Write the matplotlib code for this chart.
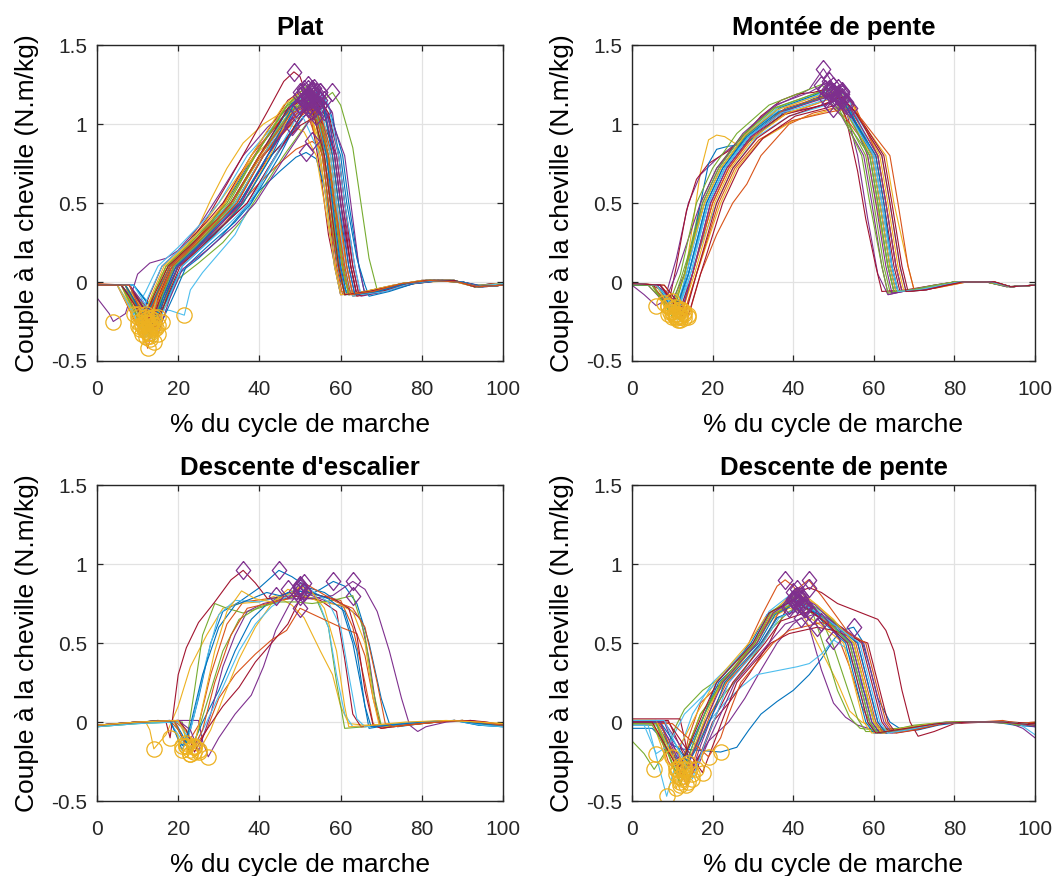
import numpy as np
import matplotlib
matplotlib.use("Agg")
import matplotlib.pyplot as plt

plt.rcParams['font.family'] = ['Liberation Sans', 'DejaVu Sans']

# MATLAB default colour order
matlab_colors = ['#0072BD', '#D95319', '#EDB120', '#7E2F8E', '#77AC30', '#4DBEEE', '#A2142F']

panel_titles = ['Plat', 'Montée de pente', "Descente d'escalier", 'Descente de pente']
xticks = [0, 20, 40, 60, 80, 100]
yticks = [-0.5, 0, 0.5, 1, 1.5]
ytick_labels = ['-0.5', '0', '0.5', '1', '1.5']

# (% cycle, couple) points
plat_traces = [
    [(0,-.02),(6,-.02),(11,-.27),(15,-.1),(18,.08),(23,.2),(29,.4),(34,.6),(40,.85),(46,1.05),(50,1.15),(52,1.17),(54,1.1),(56,.8),(58,.4),(61,-.08),(67,-.06),(74,-.02),(80,.01),(88,.01),(93,-.03),(97,-.01),(100,-.02)],
    [(0,-.01),(7,-.02),(12,-.3),(16,-.05),(19,.1),(24,.22),(30,.45),(36,.7),(42,.92),(47,1.08),(51,1.18),(53,1.2),(55,1.08),(57,.75),(59,.35),(62,-.07),(68,-.06),(75,-.01),(81,.01),(87,.01),(92,-.02),(96,-.03),(100,-.01)],
    [(0,-.02),(5,-.02),(10,-.22),(14,-.08),(17,.1),(21,.2),(25,.35),(28,.52),(32,.72),(36,.88),(41,1.0),(46,1.08),(50,1.12),(53,1.05),(56,.6),(59,.15),(61,-.08),(68,-.06),(75,-.02),(82,.0),(88,.01),(93,-.02),(97,-.02),(100,-.01)],
    [(0,-.1),(3,-.2),(4,-.25),(7,-.2),(10,.05),(13,.12),(17,.15),(20,.2),(25,.35),(30,.55),(36,.8),(42,.98),(48,1.12),(51,1.15),(53,1.12),(55,.95),(57,.6),(59,.2),(61,-.08),(66,-.07),(72,-.04),(78,0),(85,.01),(92,-.01),(95,-.03),(100,-.02)],
    [(0,-.02),(8,-.02),(13,-.28),(17,-.15),(20,.02),(25,.12),(31,.25),(36,.4),(41,.6),(46,.8),(51,.98),(55,1.12),(57,1.18),(58,1.2),(60,1.12),(63,.85),(65,.5),(67,.15),(69,-.05),(72,-.05),(78,-.01),(84,.01),(90,.0),(94,-.03),(100,-.02)],
    [(0,-.02),(9,-.02),(14,-.17),(18,-.18),(21.5,-.21),(23,-.05),(26,.06),(30,.18),(34,.3),(38,.5),(42,.7),(47,.92),(51,1.05),(53,1.08),(55,1.0),(57,.8),(59,.45),(62,-.05),(65,-.08),(71,-.05),(77,-.01),(84,.01),(90,.0),(94,-.03),(100,-.01)],
    [(0,-.02),(7,-.02),(12,-.25),(15,-.1),(18,.1),(22,.22),(27,.4),(32,.62),(37,.85),(42,1.08),(46,1.27),(48.5,1.33),(50,1.3),(52,1.15),(55,.7),(57,.3),(60,-.08),(66,-.07),(73,-.03),(80,.01),(88,.01),(93,-.03),(97,-.01),(100,-.02)],
    [(0,-.02),(8,-.02),(13,-.32),(17,-.12),(20,.05),(25,.15),(30,.27),(35,.42),(40,.58),(45,.7),(49,.79),(51.5,.82),(54,.78),(56,.6),(58,.3),(60,.0),(62,-.08),(68,-.07),(75,-.02),(82,.01),(89,.0),(94,-.03),(100,-.02)],
    [(0,-.02),(7,-.02),(12,-.26),(16,-.1),(19,.08),(24,.18),(29,.3),(34,.45),(39,.6),(44,.73),(49,.84),(53,.89),(55,.85),(57,.65),(59,.3),(61,.0),(63,-.09),(69,-.07),(75,-.02),(82,.01),(88,.01),(93,-.03),(100,-.02)],
    [(0,-.02),(6,-.02),(10,-.2),(13,-.15),(16,.05),(20,.15),(25,.32),(30,.5),(35,.68),(40,.83),(45,.95),(48,.99),(51,.95),(54,.8),(56,.5),(58,.2),(60,-.06),(65,-.07),(72,-.03),(79,.0),(87,.01),(93,-.02),(100,-.01)],
    [(0,-.02),(7,-.02),(13,-.29),(16,-.08),(19,.1),(24,.22),(29,.38),(34,.5),(41,.8),(49,1.09),(53,1.16),(55,1.08),(57.5,.8),(59,.5),(61.5,.1),(63,-.08),(69,-.06),(76,-.01),(83,.01),(90,.0),(94,-.03),(100,-.02)],
    [(0,-.02),(8,-.02),(14,-.24),(17,-.08),(20,.1),(25,.22),(29,.36),(33,.5),(40,.8),(48,1.07),(52,1.14),(54,1.06),(56.5,.8),(58,.5),(59.5,.1),(61,-.08),(67,-.06),(75,-.01),(82,.01),(89,.0),(94,-.03),(100,-.01)],
    [(0,-.02),(6,-.02),(12,-.35),(15,-.08),(18,.1),(23,.22),(30,.38),(35,.5),(42,.8),(50,1.13),(54,1.2),(56,1.12),(58,.8),(59.5,.5),(61.5,.1),(63,-.09),(69,-.06),(76,-.01),(84,.01),(90,0),(95,-.03),(100,-.02)],
    [(0,-.02),(5,-.02),(10,-.28),(13,-.08),(16,.1),(21,.22),(27,.38),(31,.5),(38,.8),(47,1.15),(51,1.22),(53,1.14),(55.5,.8),(57,.5),(58.5,.1),(60,-.08),(66,-.06),(74,-.02),(81,.01),(88,.01),(93,-.03),(100,-.02)],
    [(0,-.02),(9,-.02),(15,-.22),(18,-.08),(21,.1),(26,.22),(32,.38),(36,.5),(43,.8),(51,1.05),(55,1.12),(57,1.05),(58.5,.8),(60,.5),(62.5,.1),(64,-.08),(70,-.05),(77,-.01),(84,.01),(90,.0),(94,-.02),(100,-.02)],
    [(0,-.02),(7,-.02),(12.5,-.42),(15.5,-.1),(18.5,.1),(24,.22),(30,.38),(34,.5),(41,.8),(49,1.03),(53,1.1),(55,1.03),(57.5,.8),(59,.5),(60.5,.1),(62,-.08),(68,-.06),(75,-.01),(83,.01),(89,.0),(94,-.03),(100,-.02)],
    [(0,-.02),(6,-.02),(11,-.33),(14,-.08),(17,.1),(22,.22),(28,.38),(32,.5),(39,.8),(46,1.1),(50,1.18),(52,1.1),(56,.8),(57.5,.5),(59.5,.1),(61,-.08),(67,-.06),(74,-.02),(81,.01),(88,.01),(93,-.03),(100,-.01)],
    [(0,-.02),(8,-.02),(13,-.26),(16,-.08),(19,.1),(24,.22),(32,.38),(37,.5),(44,.8),(52,1.08),(56,1.15),(58,1.07),(59.5,.8),(61,.5),(63.5,.1),(65,-.09),(71,-.06),(78,-.01),(85,.01),(90,0),(94,-.03),(100,-.02)],
    [(0,-.02),(7,-.02),(14,-.38),(17,-.1),(20,.1),(25,.22),(30,.38),(34,.5),(41,.8),(48,1.15),(52,1.25),(54,1.17),(57,.8),(58.5,.5),(60.5,.1),(62,-.08),(68,-.06),(75,-.01),(82,.01),(89,.0),(94,-.03),(100,-.02)],
    [(0,-.02),(5,-.02),(9,-.2),(12,-.06),(15,.1),(20,.22),(26,.38),(30,.5),(37,.8),(45,1.03),(49,1.1),(51,1.03),(55,.8),(56.5,.5),(58.5,.1),(60,-.08),(66,-.06),(73,-.02),(80,.01),(87,.01),(93,-.03),(100,-.02)],
    [(0,-.02),(8,-.02),(14,-.3),(17,-.08),(20,.1),(25,.22),(31,.38),(35,.5),(42,.78),(50,.99),(54,1.05),(56,.99),(59,.8),(60.5,.5),(62.5,.1),(64,-.08),(70,-.05),(77,-.01),(84,.01),(90,0),(94,-.03),(100,-.02)],
    [(0,-.02),(9,-.02),(16,-.25),(19,-.08),(22,.1),(27,.22),(34,.38),(38,.5),(45,.8),(51,1.1),(55,1.2),(57,1.12),(60.5,.8),(62,.5),(64.5,.1),(66,-.08),(72,-.05),(78,-.01),(85,.01),(90,0),(95,-.03),(100,-.02)],
    [(0,-.02),(6,-.02),(12,-.2),(15,-.06),(18,.1),(23,.22),(29,.38),(33,.5),(40,.78),(48,1.03),(52,1.1),(54,1.03),(56.5,.8),(58,.5),(60.5,.1),(62,-.08),(68,-.06),(75,-.01),(82,.01),(89,.0),(94,-.03),(100,-.02)],
    [(0,-.02),(7,-.02),(13,-.23),(16,-.07),(19,.1),(24,.22),(32,.38),(36,.5),(43,.82),(49,1.15),(53,1.22),(55,1.14),(57.5,.8),(59,.5),(61.5,.1),(63,-.08),(69,-.06),(76,-.01),(83,.01),(90,0),(94,-.03),(100,-.02)],
    [(0,-.02),(8,-.02),(15,-.33),(18,-.1),(21,.08),(27,.2),(34,.36),(39,.5),(46,.78),(52,1.01),(56,1.08),(58,1.01),(61,.8),(62.5,.5),(64.5,.1),(66,-.08),(72,-.05),(78,-.01),(85,.01),(90,0),(95,-.03),(100,-.02)],
    [(0,-.02),(6,-.02),(11.5,-.3),(14.5,-.08),(17.5,.1),(22.5,.22),(28.5,.38),(32.5,.5),(39,.8),(47,1.13),(51,1.2),(53,1.12),(55.5,.8),(57,.5),(59.5,.1),(61,-.08),(67,-.06),(74,-.02),(81,.01),(88,.01),(93,-.03),(100,-.02)],
    [(0,-.02),(5,-.02),(10,-.25),(13,-.07),(16,.1),(21,.22),(28,.38),(33,.5),(40,.8),(48,1.1),(52,1.17),(54,1.09),(56.5,.8),(58,.5),(60,.1),(61.5,-.08),(67,-.06),(74,-.02),(81,.01),(88,.01),(93,-.03),(100,-.01)],
    [(0,-.02),(7,-.02),(13,-.28),(16,-.08),(19,.1),(24,.22),(30,.38),(34.5,.5),(41,.8),(50,1.07),(54,1.14),(56,1.06),(58.5,.8),(60,.5),(62.5,.1),(64,-.09),(70,-.06),(77,-.01),(84,.01),(90,0),(94,-.03),(100,-.02)],
    [(0,-.02),(8,-.02),(14,-.27),(17,-.08),(20,.1),(25,.22),(32,.38),(36,.5),(43,.8),(49,1.12),(53,1.19),(56,1.1),(60,.8),(61.5,.5),(64,.15),(66,-.02),(67,-.09),(72,-.06),(78,-.01),(85,.01),(90,0),(94,-.03),(100,-.02)],
    [(0,-.02),(6,-.02),(12,-.24),(15,-.07),(18,.1),(23,.22),(28,.38),(31.5,.5),(38,.8),(46,1.05),(50,1.12),(52,1.05),(55.5,.8),(57,.5),(59,.1),(60.5,-.08),(66,-.06),(73,-.02),(80,.01),(87,.01),(93,-.03),(100,-.02)],
    [(0,-.02),(7,-.02),(12,-.31),(15,-.08),(18,.1),(23,.21),(29,.37),(33.5,.5),(40,.79),(48,1.1),(52,1.18),(54,1.1),(57,.8),(58.5,.5),(60.5,.1),(62,-.08),(68,-.06),(75,-.01),(82,.01),(89,0),(94,-.03),(100,-.02)],
    [(0,-.02),(8,-.02),(13.5,-.25),(16.5,-.07),(19.5,.1),(24.5,.22),(31,.38),(35.5,.5),(42,.8),(50,1.1),(54.5,1.17),(56.5,1.09),(59,.8),(60.5,.5),(63,.1),(64.5,-.08),(70,-.06),(77,-.01),(84,.01),(90,0),(94,-.03),(100,-.02)],
    [(0,-.02),(6,-.02),(11,-.27),(14,-.07),(17,.1),(22,.22),(28,.38),(32,.5),(39,.8),(47,1.12),(51,1.16),(53,1.1),(56,.8),(57.5,.5),(59.5,.1),(61,-.08),(67,-.06),(74,-.02),(81,.01),(88,.01),(93,-.03),(100,-.02)],
    [(0,-.02),(7,-.02),(13,-.36),(16,-.1),(19,.1),(24,.22),(30,.38),(34,.5),(41,.8),(49,1.14),(53,1.21),(55,1.13),(57.5,.8),(59,.5),(61,.1),(62.5,-.08),(68,-.06),(75,-.01),(82,.01),(89,0),(94,-.03),(100,-.02)],
    [(0,-.02),(8,-.02),(14.5,-.29),(17.5,-.08),(20.5,.1),(25.5,.22),(32,.38),(37,.5),(44,.8),(51,1.08),(55,1.15),(57,1.07),(59.5,.8),(61,.5),(63,.1),(64.5,-.08),(70,-.06),(77,-.01),(84,.01),(90,0),(94,-.03),(100,-.02)],
    [(0,-.02),(6,-.02),(12,-.22),(15,-.06),(18,.1),(23,.22),(29,.38),(33,.5),(40,.8),(48,1.13),(52,1.22),(54,1.13),(56.5,.8),(58,.5),(60,.1),(61.5,-.08),(67,-.06),(74,-.02),(81,.01),(88,.01),(93,-.03),(100,-.02)],
    [(0,-.02),(7,-.02),(12.5,-.32),(15.5,-.08),(18.5,.1),(23.5,.22),(30,.38),(34.5,.5),(41,.8),(49,1.06),(53,1.13),(55,1.06),(58,.8),(59.5,.5),(61.5,.1),(63,-.08),(69,-.06),(76,-.01),(83,.01),(90,0),(94,-.03),(100,-.02)],
    [(0,-.02),(5,-.02),(10.5,-.3),(13.5,-.08),(16.5,.1),(21.5,.22),(27.5,.38),(31.5,.5),(38,.8),(46,1.12),(50,1.2),(52,1.12),(55,.8),(56.5,.5),(58.5,.1),(60,-.08),(66,-.06),(73,-.02),(80,.01),(87,.01),(93,-.03),(100,-.02)],
    [(0,-.02),(8,-.02),(14,-.22),(17,-.06),(20,.1),(25,.22),(31,.38),(35.5,.5),(42,.8),(50,1.12),(54,1.18),(56,1.1),(58.5,.8),(60,.5),(62,.1),(63.5,-.08),(69,-.06),(76,-.01),(83,.01),(90,0),(94,-.03),(100,-.02)],
    [(0,-.02),(7,-.02),(13,-.34),(16,-.09),(19,.1),(24,.22),(29.5,.38),(33.5,.5),(40,.8),(48,1.09),(52,1.15),(54,1.08),(57,.8),(58.5,.5),(60.5,.1),(62,-.08),(68,-.06),(75,-.01),(82,.01),(89,0),(94,-.03),(100,-.02)],
    [(0,-.02),(9,-.02),(15,-.27),(18,-.08),(21,.1),(26,.22),(33,.38),(37.5,.5),(44,.8),(51,1.13),(55,1.2),(57,1.12),(59.5,.8),(61,.5),(63.5,.1),(65,-.08),(71,-.06),(77,-.01),(84,.01),(90,0),(94,-.03),(100,-.02)],
    [(0,-.02),(6,-.02),(11.5,-.23),(14.5,-.06),(17.5,.1),(22.5,.22),(29,.38),(33,.5),(40,.8),(47,1.1),(51,1.16),(53,1.09),(56,.8),(57.5,.5),(59.5,.1),(61,-.08),(67,-.06),(74,-.02),(81,.01),(88,.01),(93,-.03),(100,-.02)],
    [(0,-.02),(7,-.02),(13.5,-.3),(16.5,-.08),(19.5,.1),(24.5,.22),(30.5,.38),(35,.5),(42,.8),(49,1.15),(53.5,1.23),(55.5,1.14),(58,.8),(59.5,.5),(62,.1),(63.5,-.08),(69,-.06),(76,-.01),(83,.01),(90,0),(94,-.03),(100,-.02)],
    [(0,-.02),(8,-.02),(12,-.26),(15,-.07),(18,.1),(23,.22),(29,.38),(33,.5),(40,.8),(48,1.07),(52.5,1.12),(54.5,1.05),(57,.8),(58.5,.5),(61,.1),(62.5,-.08),(68,-.06),(75,-.01),(82,.01),(89,0),(94,-.03),(100,-.02)],
]

montee_traces = [
    [(0,-.01),(6,-.02),(11,-.2),(14,.05),(19,.5),(23,.72),(29,.92),(37,1.08),(45,1.15),(50,1.2),(53,1.12),(60,.8),(62,.5),(64.5,.1),(66,-.06),(71,-.05),(77,-.02),(81,0),(89,0),(94,-.03),(100,-.02)],
    [(0,-.01),(7,-.02),(12,-.22),(15,.05),(20,.5),(24,.72),(30,.92),(38,1.06),(46,1.13),(51,1.18),(54,1.1),(61,.8),(63,.5),(65.5,.1),(67,-.06),(72,-.05),(78,-.02),(82,0),(89,0),(94,-.03),(100,-.02)],
    [(0,-.01),(5,-.02),(9,-.2),(12,-.15),(15,.35),(17,.7),(19,.9),(21,.93),(23,.92),(26,.87),(30,.9),(35,1.02),(40,1.1),(45,1.15),(49,1.18),(52,1.2),(55,1.12),(58,.85),(61,.45),(63.5,.1),(65,-.06),(70,-.05),(76,-.02),(80,0),(88,0),(91,-.01),(94,-.03),(100,-.02)],
    [(0,-.02),(3,-.08),(6,-.15),(8,-.12),(11,.15),(14,.5),(17,.68),(21,.78),(26,.88),(31,1.02),(36,1.12),(41,1.18),(44,1.22),(47.5,1.35),(50,1.25),(53,1.1),(56,.8),(58.5,.4),(61,.05),(63.5,-.08),(69,-.05),(76,-.02),(81,0),(89,0),(94,-.03),(100,-.02)],
    [(0,-.02),(5,-.02),(10,-.17),(13,.05),(17,.5),(21,.72),(27,.92),(35,1.1),(43,1.17),(48,1.22),(51,1.14),(58,.8),(60,.5),(62.5,.1),(64,-.06),(70,-.05),(76,-.02),(80,0),(88,0),(93,-.03),(100,-.02)],
    [(0,-.01),(6,-.02),(11.5,-.24),(14.5,.05),(21,.5),(25,.72),(31,.92),(39,1.05),(47,1.11),(52,1.16),(55,1.08),(62,.8),(64,.5),(66.5,.1),(68,-.06),(73,-.05),(78,-.02),(82,0),(90,0),(94,-.03),(100,-.02)],
    [(0,-.01),(5,-.02),(7,-.05),(9,-.15),(11,.1),(13.5,.45),(16,.65),(19,.75),(24,.83),(28,.93),(32,1.05),(37,1.15),(41,1.19),(45,1.2),(48,1.22),(50,1.2),(53,1.05),(56,.7),(58,.4),(60.5,.1),(62,-.06),(68,-.05),(75,-.02),(80,0),(89,0),(94,-.03),(100,-.02)],
    [(0,-.01),(6,-.02),(11,-.2),(14,.1),(17,.5),(19,.75),(21,.84),(24,.86),(28,.87),(32,.95),(38,1.08),(45,1.16),(50,1.2),(53,1.12),(59.5,.8),(61.5,.5),(64,.1),(65.5,-.06),(71,-.05),(76,-.02),(80,0),(88,0),(94,-.03),(100,-.02)],
    [(0,-.01),(7,-.02),(14,-.22),(17,.05),(21,.3),(25,.5),(28.5,.62),(32,.8),(39,1.0),(45,1.07),(50,1.1),(53,1.04),(60,.8),(62,.5),(64.5,.1),(66,-.06),(71,-.05),(77,-.02),(81,0),(89,0),(94,-.03),(100,-.02)],
    [(0,-.01),(8,-.02),(13,-.19),(16,.05),(22,.5),(26,.72),(32,.9),(40,1.02),(48,1.08),(53,1.12),(56,1.05),(63,.8),(65,.5),(68.5,.1),(70,-.05),(75,-.04),(79,-.02),(83,0),(90,0),(94,-.03),(100,-.02)],
    [(0,-.02),(4,-.02),(8,-.13),(11,.05),(17,.5),(21,.72),(27,.91),(35,1.06),(44,1.1),(49,1.13),(52,1.05),(57.5,.8),(59.5,.5),(62,.1),(63.6,-.08),(69,-.05),(75,-.02),(80,0),(88,0),(94,-.03),(100,-.02)],
    [(0,-.02),(4,-.02),(9,-.15),(12,.05),(16,.5),(20,.72),(26,.94),(34,1.12),(42,1.2),(47,1.25),(50,1.17),(57,.8),(59,.5),(62,.1),(63.5,-.07),(69,-.05),(75,-.02),(80,0),(88,0),(93,-.03),(100,-.02)],
    [(0,-.01),(6,-.02),(10.5,-.21),(13.5,.05),(18,.5),(22,.72),(28,.93),(36,1.1),(44,1.17),(49,1.21),(52,1.13),(59,.8),(61,.5),(63.5,.1),(65,-.06),(70,-.05),(76,-.02),(80,0),(88,0),(94,-.03),(100,-.02)],
    [(0,-.01),(7,-.02),(12,-.17),(15,.05),(19.5,.5),(23.5,.72),(29.5,.92),(37.5,1.06),(46,1.11),(51,1.15),(54,1.07),(60.5,.8),(62.5,.5),(65,.1),(66.5,-.06),(72,-.05),(77,-.02),(81,0),(89,0),(94,-.03),(100,-.02)],
    [(0,-.02),(5,-.02),(11,-.23),(14,.05),(18.5,.5),(22.5,.72),(28.5,.93),(36.5,1.1),(45,1.18),(50,1.24),(53,1.15),(59.5,.8),(61.5,.5),(64,.1),(65.5,-.06),(71,-.05),(76,-.02),(80,0),(88,0),(94,-.03),(100,-.02)],
    [(0,-.01),(7,-.02),(13,-.2),(16,.05),(21.5,.5),(25.5,.72),(31.5,.9),(39.5,1.02),(48,1.07),(54,1.1),(57,1.03),(64,.8),(66,.5),(68.5,.1),(70,-.05),(75,-.04),(79,-.02),(83,0),(90,0),(94,-.03),(100,-.02)],
    [(0,-.01),(6,-.02),(12.5,-.18),(15.5,.05),(20.5,.5),(24.5,.72),(30.5,.92),(38.5,1.07),(47,1.14),(52,1.19),(55,1.11),(61.5,.8),(63.5,.5),(66,.1),(67.5,-.06),(72,-.05),(78,-.02),(82,0),(89,0),(94,-.03),(100,-.02)],
    [(0,-.02),(6,-.02),(8,-.06),(10,-.12),(13,.05),(17.5,.5),(21.5,.72),(27.5,.94),(35.5,1.12),(44,1.2),(49,1.27),(52,1.18),(58.5,.8),(60.5,.5),(63,.1),(64.5,-.07),(70,-.05),(76,-.02),(80,0),(88,0),(93,-.03),(100,-.02)],
    [(0,-.02),(5,-.02),(9.5,-.19),(12.5,.05),(18,.5),(22,.72),(28,.92),(36,1.07),(43,1.13),(48,1.17),(51,1.09),(59,.8),(61,.5),(63.5,.1),(65,-.06),(70,-.05),(76,-.02),(80,0),(88,0),(94,-.03),(100,-.02)],
    [(0,-.01),(7,-.02),(11,-.22),(14,.05),(19,.5),(23,.72),(29,.93),(37,1.1),(46,1.18),(51,1.23),(54,1.14),(60,.8),(62,.5),(64.5,.1),(66,-.06),(71,-.05),(77,-.02),(81,0),(89,0),(94,-.03),(100,-.02)],
    [(0,-.01),(8,-.02),(14,-.21),(17,.05),(22.5,.5),(26.5,.72),(32.5,.91),(40.5,1.05),(48,1.1),(53,1.14),(56,1.06),(62.5,.8),(64.5,.5),(67,.1),(68.5,-.06),(73,-.05),(78,-.02),(82,0),(90,0),(94,-.03),(100,-.02)],
    [(0,-.02),(6,-.02),(11,-.16),(14,.05),(18.5,.5),(22.5,.72),(28.5,.92),(36.5,1.08),(45,1.15),(50,1.2),(53,1.12),(60.5,.8),(62.5,.5),(64.5,.1),(66,-.06),(71,-.05),(77,-.02),(81,0),(89,0),(94,-.03),(100,-.02)],
    [(0,-.01),(5,-.02),(12,-.24),(15,.05),(20,.5),(24,.72),(30,.93),(38,1.1),(47,1.17),(52,1.21),(55,1.13),(61,.8),(63,.5),(65.5,.1),(67,-.06),(72,-.05),(77,-.02),(81,0),(89,0),(94,-.03),(100,-.02)],
    [(0,-.01),(6,-.02),(10,-.19),(13,.05),(18,.5),(22,.72),(28,.93),(36,1.09),(44,1.16),(49,1.2),(52,1.12),(59.5,.8),(61.5,.5),(64,.1),(65.5,-.06),(71,-.05),(76,-.02),(80,0),(88,0),(94,-.03),(100,-.02)],
    [(0,-.01),(7,-.02),(12,-.21),(15,.05),(19.5,.5),(23.5,.72),(29.5,.92),(37.5,1.08),(46,1.15),(51,1.19),(54,1.11),(61,.8),(63,.5),(65.5,.1),(67,-.06),(72,-.05),(77,-.02),(81,0),(89,0),(94,-.03),(100,-.02)],
    [(0,-.02),(5,-.02),(10,-.22),(13,.05),(17.5,.5),(21.5,.72),(27.5,.93),(35.5,1.1),(44,1.18),(49,1.22),(52,1.14),(59,.8),(61,.5),(63.5,.1),(65,-.06),(70,-.05),(76,-.02),(80,0),(88,0),(94,-.03),(100,-.02)],
    [(0,-.01),(6,-.02),(11.5,-.18),(14.5,.05),(19,.5),(23,.72),(29,.92),(37,1.07),(45,1.13),(50,1.17),(53,1.09),(60,.8),(62,.5),(64.5,.1),(66,-.06),(71,-.05),(77,-.02),(81,0),(89,0),(94,-.03),(100,-.02)],
    [(0,-.01),(7,-.02),(13,-.23),(16,.05),(21,.5),(25,.72),(31,.91),(39,1.05),(47,1.12),(52,1.17),(55,1.09),(62,.8),(64,.5),(66.5,.1),(68,-.06),(73,-.05),(78,-.02),(82,0),(90,0),(94,-.03),(100,-.02)],
]

escalier_traces = [
    [(0,-.02),(10,0),(18,.01),(19,-.05),(21,-.15),(23,-.05),(25,.15),(28,.5),(31,.7),(35,.76),(40,.85),(44.8,.96),(48,.92),(52,.85),(56,.82),(60,.75),(63,.5),(66,.1),(67,-.04),(72,-.02),(80,0),(90,.01),(95,-.01),(100,-.02)],
    [(0,-.02),(10,0),(18,.01),(20,-.05),(22,-.15),(25,-.02),(28,.3),(32,.62),(36,.76),(42,.78),(47,.78),(51,.82),(55,.8),(60,.77),(63,.6),(66,.25),(68,-.01),(70,-.04),(75,-.02),(83,0),(90,.01),(95,-.01),(100,-.01)],
    [(0,-.02),(8,-.01),(12,.0),(13,-.05),(14,-.17),(17,-.08),(20,.1),(23,.35),(27,.55),(31,.72),(35,.75),(40,.76),(44,.8),(48,.74),(51,.66),(55,.45),(58,.3),(60,.1),(62,-.01),(66,-.02),(74,-.01),(82,0),(90,.01),(95,0),(100,-.02)],
    [(0,-.02),(10,0),(20,.01),(25,.01),(26,-.12),(27.4,-.22),(30,-.1),(34,.05),(38,.17),(41,.35),(44,.58),(47.5,.75),(50,.83),(53,.8),(58,.75),(62,.72),(65,.65),(67,.4),(69,.05),(70,-.03),(75,-.01),(83,0),(90,.01),(95,-.01),(100,-.02)],
    [(0,-.03),(8,-.01),(15,.01),(21,.0),(22,-.13),(24,.2),(26,.55),(29,.75),(32,.72),(36,.69),(41,.73),(46,.78),(50,.8),(54,.78),(57,.6),(59,.25),(61,-.04),(66,-.03),(74,-.01),(82,0),(90,.01),(95,-.01),(100,-.02)],
    [(0,-.03),(10,-.01),(18,.0),(20,-.08),(22,-.15),(24,.05),(27,.4),(30,.68),(34,.77),(40,.76),(46,.8),(50,.85),(54,.8),(57,.6),(59,.3),(61,.05),(63,-.03),(70,-.02),(78,0),(88,.01),(94,-.02),(100,-.03)],
    [(0,-.02),(8,-.01),(15,.01),(17,.0),(18,-.1),(20,.3),(22,.47),(25,.63),(29,.76),(33,.9),(36,.96),(39,.88),(42,.78),(48,.8),(55,.77),(59,.7),(61,.4),(63,.05),(65,-.03),(72,-.02),(80,0),(88,.01),(93,.0),(97,-.02),(100,-.02)],
    [(0,-.02),(10,0),(19,.01),(21,-.08),(23,-.18),(26,.0),(30,.2),(34,.45),(38,.65),(42,.75),(47,.82),(52,.8),(55,.84),(58.2,.89),(61,.86),(64,.75),(67,.5),(70,.15),(72,-.01),(74,-.03),(80,-.01),(88,.01),(94,-.02),(100,-.03)],
    [(0,-.02),(10,0),(19,.01),(22,-.06),(24,-.16),(27,-.05),(30,.15),(34,.3),(39,.43),(43,.52),(46.7,.58),(50,.72),(55,.66),(60,.6),(64,.56),(66,.42),(68,.15),(70,-.04),(75,-.02),(83,0),(90,.01),(95,0),(100,-.02)],
    [(0,-.02),(10,0),(20,.01),(23,-.1),(25,-.19),(28,-.05),(31,.15),(35,.4),(39,.6),(43,.75),(47,.84),(51,.8),(55,.76),(60,.74),(63,.7),(66,.5),(68,.15),(69.5,-.02),(72,-.03),(80,-.01),(88,.01),(94,0),(100,-.01)],
    [(0,-.02),(10,0),(20,.01),(23,-.05),(25,-.18),(28,.05),(31,.35),(34,.55),(37,.7),(41,.75),(46,.78),(52,.78),(58,.8),(63,.89),(66,.84),(69,.7),(72,.45),(75,.15),(77,-.02),(79,-.06),(81,-.03),(86,0),(92,.01),(96,-.01),(100,-.02)],
    [(0,-.03),(10,-.01),(19,.0),(21,-.1),(23,-.2),(25,-.05),(28,.2),(31,.45),(35,.65),(40,.73),(45,.76),(49,.76),(53,.75),(58,.77),(63,.8),(66,.55),(68,.2),(70,-.02),(73,-.03),(80,-.01),(88,.01),(94,-.01),(100,-.02)],
    [(0,-.03),(10,-.01),(20,0),(22,-.08),(24,-.16),(27,.0),(31,.22),(35,.45),(39,.62),(43,.73),(47,.8),(50,.87),(53,.83),(57,.76),(60,.6),(62,.3),(64,.02),(66,-.03),(72,-.02),(80,0),(88,.01),(95,-.02),(100,-.03)],
    [(0,-.02),(10,0),(20,.01),(22,-.05),(24,-.19),(27,-.05),(31,.1),(35,.22),(39,.38),(43,.5),(47,.62),(51,.83),(55,.8),(59,.77),(62,.72),(64,.55),(66,.2),(68,-.02),(70,-.04),(76,-.02),(84,0),(92,.01),(96,0),(100,-.02)],
    [(0,-.02),(10,0),(18,.01),(19.5,-.08),(21,-.18),(23,-.02),(26,.3),(30,.6),(34,.74),(38,.78),(41.8,.82),(45,.8),(49,.83),(53,.82),(57,.78),(61,.7),(64,.45),(66,.1),(67.5,-.03),(72,-.02),(80,0),(88,.01),(94,-.01),(100,-.02)],
    [(0,-.02),(10,0),(19,.01),(21,-.1),(23,-.2),(26,-.05),(29,.25),(33,.55),(37,.72),(42,.75),(47,.78),(51,.88),(55,.82),(59,.76),(63,.72),(66,.6),(69,.25),(71,-.01),(73,-.03),(80,-.01),(88,.01),(94,.0),(100,-.02)],
    [(0,-.02),(10,0),(20,.01),(22,-.1),(24,-.15),(26,.1),(29,.45),(32,.7),(35.6,.83),(39,.78),(43,.76),(48,.82),(50,.86),(53,.82),(56,.72),(59,.45),(61,.1),(62,-.03),(68,-.02),(76,0),(86,.01),(94,0),(100,-.01)],
]

pente_traces = [
    [(0,-.04),(5,-.04),(8,-.12),(12,-.17),(17,-.18),(22,-.19),(26,-.16),(29,-.05),(32,.05),(36,.13),(40,.2),(44,.3),(47,.4),(50,.52),(52,.58),(55,.6),(57,.52),(59,.35),(61,.15),(64,.0),(67,-.05),(71,-.05),(76,-.02),(82,0),(90,0),(95,-.02),(100,-.03)],
    [(0,.01),(6,.0),(9,-.25),(12,-.35),(14,-.1),(17,.12),(21,.22),(25,.32),(29,.5),(32.5,.69),(36,.86),(38,.9),(40,.86),(43,.75),(47,.68),(51,.55),(54,.35),(57,.1),(60,-.05),(63,-.06),(70,-.03),(78,0),(86,0),(92,.01),(96,-.01),(100,.0)],
    [(0,.0),(6,.0),(9,-.15),(11,-.3),(14,-.15),(17,.05),(21,.18),(25,.3),(29,.46),(33,.6),(36,.68),(39,.72),(42,.7),(45,.55),(48,.4),(51,.25),(54,.07),(57,.0),(60,-.03),(66,-.05),(72,-.02),(80,0),(88,0),(94,.0),(100,-.01)],
    [(0,.0),(6,.01),(9,-.1),(13,-.27),(16,-.25),(19,-.12),(24,.0),(28,.15),(32,.33),(36,.5),(40,.62),(42,.66),(44,.6),(47,.33),(50,.12),(53,.03),(56,-.02),(60,-.05),(65,-.05),(72,-.02),(80,0),(88,0),(94,-.01),(97,-.04),(100,-.1)],
    [(0,-.12),(3,-.2),(5.5,-.3),(8,-.2),(11,-.02),(13,.08),(17.5,.2),(22,.28),(28.5,.45),(33,.6),(36,.71),(39,.78),(41,.8),(44,.75),(47,.65),(50,.48),(53,.25),(56,.02),(58,-.06),(63,-.06),(70,-.02),(78,0),(86,0),(92,.0),(96,-.02),(100,-.01)],
    [(0,-.02),(6,-.02),(10,-.2),(13,-.3),(16,-.15),(19,.0),(23,.12),(27,.22),(31,.3),(37,.33),(41,.35),(44,.37),(47,.43),(50,.52),(53,.47),(56,.3),(59,.1),(61,-.03),(64,-.06),(70,-.04),(76,-.01),(84,0),(92,.0),(96,-.01),(100,-.08)],
    [(0,.02),(6,.02),(11.9,.02),(13,-.1),(14.5,-.3),(17,-.2),(20,.0),(24,.12),(29,.3),(34,.5),(38,.7),(41,.82),(44,.85),(47,.82),(51,.75),(55,.71),(58,.68),(61,.65),(63,.58),(65,.45),(67,.2),(69,.0),(71,-.09),(75,-.06),(80,-.01),(88,0),(94,.0),(100,-.01)],
    [(0,.0),(7,.0),(12,-.35),(15,-.15),(18,.05),(21,.25),(29.5,.5),(33.5,.68),(40,.78),(44,.72),(48,.62),(53,.5),(56,.2),(58,.0),(60,-.07),(65,-.05),(76,-.01),(84,0),(92,0),(96,-.01),(100,-.02)],
    [(0,-.01),(6,-.01),(13,-.3),(16,-.15),(19,.05),(22,.25),(30.5,.5),(34.5,.68),(41,.75),(45,.69),(49,.62),(54,.5),(57,.2),(59,.0),(61,-.07),(66,-.05),(76,-.01),(84,0),(92,0),(96,-.01),(100,-.02)],
    [(0,.01),(5,.01),(11,-.42),(14,-.15),(17,.05),(23,.25),(31,.5),(35,.68),(42,.8),(46,.74),(50,.64),(55,.5),(58,.2),(60,.0),(62,-.07),(67,-.05),(76,-.01),(84,0),(92,0),(96,-.01),(100,-.01)],
    [(0,.0),(8,.0),(14,-.38),(17,-.15),(20,.05),(24,.25),(32,.5),(36,.66),(43,.72),(47,.68),(51,.62),(56,.5),(59,.2),(61,.0),(63,-.07),(68,-.05),(76,-.01),(84,0),(92,0),(96,-.01),(100,-.02)],
    [(0,-.02),(5,-.02),(9,-.2),(12,-.38),(15,-.2),(18,.0),(22,.15),(27,.3),(31,.45),(35,.6),(39,.7),(42,.74),(45,.68),(48,.45),(51,.2),(54,.03),(56.6,-.04),(60,-.05),(66,-.04),(72,-.02),(80,0),(88,0),(94,-.01),(100,-.02)],
    [(0,-.02),(4,-.02),(8.6,-.47),(11.5,-.2),(15,.05),(20,.25),(30,.5),(34,.7),(40,.82),(44,.76),(48,.66),(53.5,.5),(56.5,.2),(58.5,.0),(60.5,-.07),(65.5,-.05),(76,-.01),(84,0),(92,0),(96,-.01),(100,-.02)],
    [(0,.01),(9,.01),(15,-.33),(18,-.15),(21,.05),(25,.25),(33,.5),(37,.64),(44,.7),(48,.66),(52,.6),(57,.5),(60,.2),(62,.0),(64,-.07),(69,-.05),(77,-.01),(84,0),(92,0),(96,-.01),(100,-.01)],
    [(0,.0),(6,.0),(12,-.28),(15,-.12),(18,.05),(21.5,.25),(31.5,.5),(35.5,.68),(41.5,.76),(45.5,.7),(49.5,.62),(54.5,.5),(57.5,.2),(59.5,.0),(61.5,-.07),(66.5,-.05),(76,-.01),(84,0),(92,0),(96,-.01),(100,-.02)],
    [(0,-.01),(7,-.01),(13.5,-.4),(16.5,-.15),(19.5,.05),(23.5,.25),(32.5,.5),(36.5,.7),(40,.82),(43.8,.9),(47,.8),(51,.66),(55.5,.5),(58.5,.2),(60.5,.0),(62.5,-.07),(67.5,-.05),(76,-.01),(84,0),(92,0),(96,-.01),(100,-.02)],
    [(0,.0),(5,.0),(10,-.22),(13,-.1),(16,.05),(20.5,.25),(29,.5),(33,.66),(39,.74),(43,.68),(47.5,.6),(52.5,.5),(55.5,.2),(57.5,.0),(59.5,-.07),(64.5,-.05),(75,-.01),(84,0),(92,0),(96,-.01),(100,-.02)],
    [(0,.0),(8,.0),(16,-.3),(19,-.12),(22,.05),(25.5,.25),(34,.5),(38,.62),(45,.68),(49,.64),(53,.58),(57.5,.5),(60.5,.2),(62.5,.0),(64.5,-.07),(69.5,-.05),(77,-.01),(84,0),(92,0),(96,-.01),(100,-.03)],
    [(0,.01),(6,.01),(11,-.33),(14,-.15),(17,.05),(22.5,.25),(31,.5),(35,.68),(42,.78),(46,.72),(50,.64),(55,.5),(58,.2),(60,.0),(62,-.07),(67,-.05),(76,-.01),(84,0),(92,0),(96,-.01),(100,-.02)],
    [(0,-.02),(3,-.02),(6,-.2),(9,-.15),(13,.05),(21,.25),(30,.5),(34,.68),(40.5,.77),(44.5,.71),(49,.63),(54,.5),(57,.2),(59,.0),(61,-.07),(66,-.05),(76,-.01),(84,0),(92,0),(96,-.01),(100,-.02)],
    [(0,.0),(9,.0),(17.5,-.32),(20.5,-.12),(23,.05),(26,.25),(34.5,.5),(39,.56),(46,.6),(50,.58),(54,.54),(58.5,.5),(61.5,.2),(63.5,.0),(65.5,-.07),(70.5,-.05),(77,-.01),(84,0),(92,0),(96,-.01),(100,-.02)],
    [(0,.0),(7,.0),(14,-.26),(17,-.12),(20,.05),(23,.25),(32,.5),(36,.66),(42.5,.73),(46.5,.68),(51,.6),(56,.5),(59,.2),(61,.0),(63,-.07),(68,-.05),(76,-.01),(84,0),(92,0),(96,-.01),(100,-.02)],
    [(0,-.01),(10,-.01),(19,-.22),(22,-.1),(24,.05),(27,.25),(35,.5),(39,.58),(47,.63),(51,.6),(54,.56),(58,.5),(61,.2),(63,.0),(65,-.07),(70,-.05),(77,-.01),(84,0),(92,0),(96,-.01),(100,-.02)],
    [(0,.01),(6,.01),(12.5,-.36),(15.5,-.15),(18.5,.05),(22,.25),(31,.5),(35,.7),(41,.84),(45,.76),(50,.65),(55,.5),(58,.2),(60,.0),(62,-.07),(67,-.05),(76,-.01),(84,0),(92,0),(96,-.01),(100,-.02)],
    [(0,.0),(7,.0),(13,-.32),(16,-.14),(19,.05),(22.5,.25),(31,.5),(35,.69),(41.5,.8),(45.5,.74),(49.5,.64),(54.5,.5),(57.5,.2),(59.5,.0),(61.5,-.07),(66.5,-.05),(76,-.01),(84,0),(92,0),(96,-.01),(100,-.02)],
    [(0,-.01),(6,-.01),(12,-.4),(15,-.15),(18,.05),(22,.25),(30.5,.5),(34.5,.7),(40.5,.79),(44.5,.73),(48.5,.64),(54,.5),(57,.2),(59,.0),(61,-.07),(66,-.05),(76,-.01),(84,0),(92,0),(96,-.01),(100,-.02)],
    [(0,.01),(8,.01),(15,-.36),(18,-.14),(21,.05),(24,.25),(32.5,.5),(36.5,.66),(43,.74),(47,.68),(51,.6),(56.5,.5),(59.5,.2),(61.5,.0),(63.5,-.07),(68.5,-.05),(76,-.01),(84,0),(92,0),(96,-.01),(100,-.02)],
    [(0,.0),(5,.0),(11.5,-.3),(14.5,-.13),(17.5,.05),(21,.25),(30,.5),(34,.69),(40,.77),(44,.71),(48,.63),(53.5,.5),(56.5,.2),(58.5,.0),(60.5,-.07),(65.5,-.05),(76,-.01),(84,0),(92,0),(96,-.01),(100,-.02)],
]

# axes rectangles in figure fractions (left, bottom, width, height)
panel_boxes = [
    [0.0916, 0.5879, 0.3834, 0.3607],
    [0.5968, 0.5879, 0.3805, 0.3607],
    [0.0916, 0.0856, 0.3834, 0.3607],
    [0.5968, 0.0856, 0.3805, 0.3607],
]

diamond = [(0, 1), (0.8, 0), (0, -1), (-0.8, 0), (0, 1)]


def draw_panel(ax, traces, title):
    min_x, min_y, max_x, max_y = [], [], [], []
    for i, tr in enumerate(traces):
        t = np.array(tr, dtype=float)
        ax.plot(t[:, 0], t[:, 1], color=matlab_colors[i % 7], lw=0.8)
        k = np.argmin(t[:, 1])
        min_x.append(t[k, 0]); min_y.append(t[k, 1])
        k = np.argmax(t[:, 1])
        max_x.append(t[k, 0]); max_y.append(t[k, 1])
    ax.plot(min_x, min_y, ls='none', marker='o', ms=11, mfc='none',
            mec=matlab_colors[2], mew=0.9)
    ax.plot(max_x, max_y, ls='none', marker=diamond, ms=13, mfc='none',
            mec=matlab_colors[3], mew=0.9)

    ax.set_xlim(0, 100)
    ax.set_ylim(-0.5, 1.5)
    ax.set_xticks(xticks)
    ax.set_yticks(yticks)
    ax.set_yticklabels(ytick_labels)
    ax.set_axisbelow(True)
    ax.grid(True, color='#e2e2e2', lw=0.9)
    ax.tick_params(direction='in', top=True, right=True, length=4, width=0.9,
                   labelsize=15, colors='#262626')
    ax.tick_params(axis='x', pad=13.5)
    ax.tick_params(axis='y', pad=7)
    for s in ax.spines.values():
        s.set_color('#262626')
        s.set_linewidth(1.0)
    ax.set_title(title, fontsize=18.5, fontweight='bold', pad=7)
    ax.set_xlabel('% du cycle de marche', fontsize=19, labelpad=10)
    ax.set_ylabel('Couple à la cheville (N.m/kg)', fontsize=19, labelpad=9)


def main():
    fig = plt.figure(figsize=(10.59, 8.76), dpi=100)
    all_traces = [plat_traces, montee_traces, escalier_traces, pente_traces]
    for box, traces, title in zip(panel_boxes, all_traces, panel_titles):
        ax = fig.add_axes(box)
        draw_panel(ax, traces, title)
    fig.savefig('out.png', dpi=100)

main()
